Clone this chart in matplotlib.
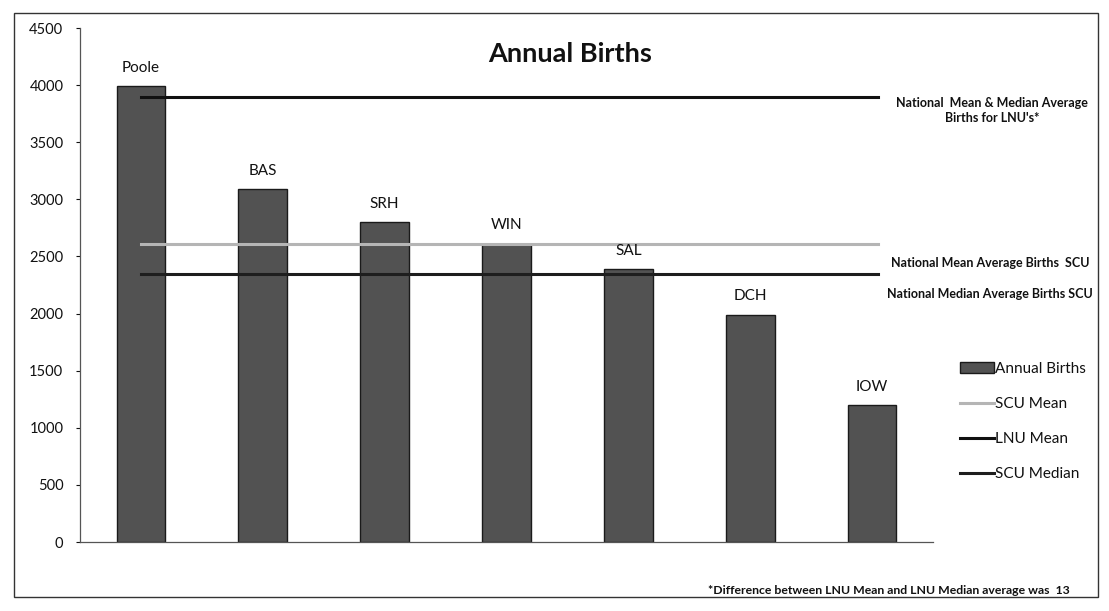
import matplotlib
matplotlib.use("Agg")
import matplotlib.pyplot as plt
from matplotlib.patches import Rectangle

plt.rcParams['font.family'] = ['Lato', 'DejaVu Sans']

# ---- data ----
units = ["Poole", "BAS", "SRH", "WIN", "SAL", "DCH", "IOW"]
annual_births = [3990, 3090, 2800, 2610, 2390, 1990, 1200]
scu_mean = 2605
lnu_mean = 3900
scu_median = 2350
yticks = [0, 500, 1000, 1500, 2000, 2500, 3000, 3500, 4000, 4500]

W, H = 1109, 611
fig = plt.figure(figsize=(W / 100, H / 100), dpi=100)
ax = fig.add_axes([80 / W, 1 - 542 / H, (933 - 80) / W, (542 - 28) / H])

x = list(range(len(units)))
bars = ax.bar(x, annual_births, width=0.40, color='#525252', edgecolor='#1a1a1a',
              linewidth=1.0, zorder=2, label='Annual Births')

xs = [x[0], x[-1] + 0.05]
l_scu_mean, = ax.plot(xs, [scu_mean, scu_mean], color='#b5b5b5', lw=2.2, zorder=3, label='SCU Mean')
l_lnu, = ax.plot(xs, [lnu_mean, lnu_mean], color='#111111', lw=2.2, zorder=3, label='LNU Mean')
l_scu_med, = ax.plot(xs, [scu_median, scu_median], color='#1e1e1e', lw=2.2, zorder=3, label='SCU Median')

for xi, v, name in zip(x, annual_births, units):
    ax.text(xi, v + 100, name, ha='center', va='bottom', fontsize=11, color='#111111')

ax.set_xlim(-0.5, 6.5)
ax.set_ylim(0, 4500)
ax.set_yticks(yticks)
ax.set_xticks([])
ax.tick_params(axis='y', length=3, width=0.8, pad=9, labelsize=10.5, colors='#111111', direction='out')
for s in ['top', 'right']:
    ax.spines[s].set_visible(False)
for s in ['left', 'bottom']:
    ax.spines[s].set_color('#555555')
    ax.spines[s].set_linewidth(0.9)

fig.text(570 / W, 1 - 54 / H, "Annual Births", ha='center', va='center',
         fontsize=19.5, fontweight='bold', color='#111111')

fig.text(992 / W, 1 - 110 / H, "National  Mean & Median Average\nBirths for LNU's*", ha='center',
         va='center', fontsize=9, fontweight='bold', color='#111111', linespacing=1.3)
fig.text(990 / W, 1 - 263 / H, "National Mean Average Births  SCU", ha='center', va='center',
         fontsize=9, fontweight='bold', color='#111111')
fig.text(990 / W, 1 - 294 / H, "National Median Average Births SCU", ha='center', va='center',
         fontsize=9, fontweight='bold', color='#111111')

fig.text(1070 / W, 1 - 591 / H, "*Difference between LNU Mean and LNU Median average was  13",
         ha='right', va='center', fontsize=8.8, fontweight='bold', color='#111111')

leg = ax.legend(handles=[bars, l_scu_mean, l_lnu, l_scu_med],
                loc='upper left', bbox_to_anchor=(960 / W, 1 - 362 / H),
                bbox_transform=fig.transFigure, frameon=False, fontsize=11,
                handlelength=2.2, handletextpad=0.1, labelspacing=1.38, borderpad=0,
                borderaxespad=0)
for t in leg.get_texts():
    t.set_color('#111111')

fig.add_artist(Rectangle((14 / W, 1 - 597 / H), (1098 - 14) / W, (597 - 13) / H,
                         transform=fig.transFigure, fill=False, edgecolor='#333333', lw=1.0))

fig.savefig("out.png", dpi=100, facecolor='white')
